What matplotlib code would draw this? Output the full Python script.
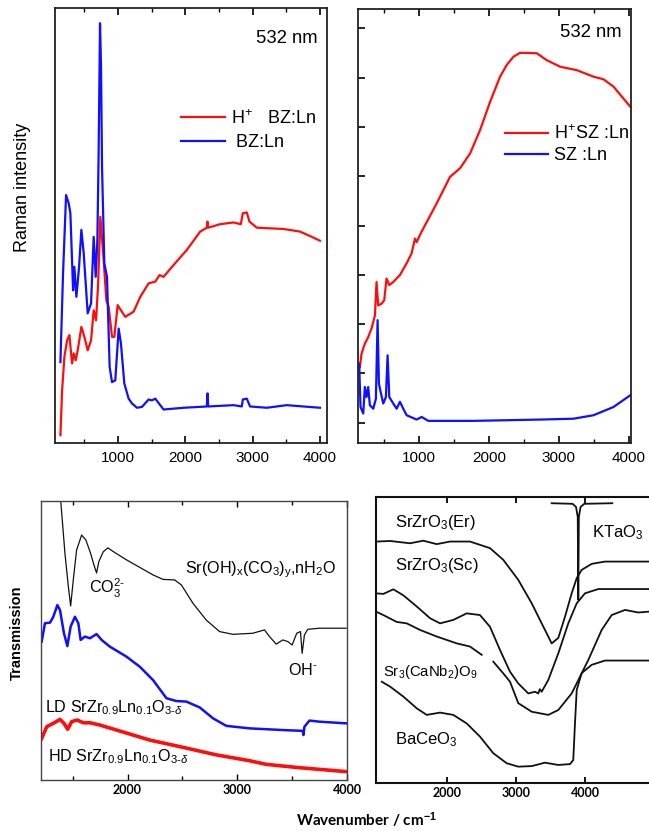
import numpy as np
import matplotlib
matplotlib.use("Agg")
import matplotlib.pyplot as plt
from matplotlib.ticker import MultipleLocator, NullFormatter

plt.rcParams['font.family'] = ['Liberation Sans', 'DejaVu Sans']
plt.rcParams['mathtext.fontset'] = 'custom'
plt.rcParams['mathtext.rm'] = 'Liberation Sans'
plt.rcParams['mathtext.it'] = 'Liberation Sans:italic'
plt.rcParams['mathtext.bf'] = 'Liberation Sans:bold'
plt.rcParams['lines.solid_joinstyle'] = 'round'

# ---- Raman, BZ:Ln (top left) ----
bz_x = [145, 184, 229, 268, 293, 333, 352, 382, 422, 456, 491, 550, 600, 639, 669, 694, 713, 733,
        748, 763, 797, 837, 876, 911, 960, 1010, 1044, 1094, 1158, 1208, 1282, 1356, 1455, 1504,
        1554, 1677, 1974, 2320, 2330, 2340, 2715, 2839, 2854, 2913, 2962, 3210, 3506, 4000]
bz_y = [18.6, 39.0, 57.0, 55.1, 52.8, 35.1, 40.5, 33.6, 40.5, 49.0, 43.6, 29.8, 32.1, 47.4, 38.2,
        46.7, 67.4, 96.5, 86.6, 63.5, 41.3, 38.2, 17.5, 14.0, 14.4, 26.3, 22.9, 13.7, 10.2, 9.1,
        8.1, 8.3, 10.0, 9.8, 10.2, 7.7, 8.1, 8.4, 11.4, 8.4, 8.7, 8.4, 10.0, 10.2, 8.4, 8.1, 8.7, 8.1]
hbz_x = [145, 170, 204, 244, 278, 318, 343, 372, 402, 456, 501, 550, 600, 639, 674, 703, 738, 787,
         827, 862, 911, 946, 995, 1044, 1109, 1232, 1331, 1455, 1554, 1618, 1677, 1825, 2023, 2221,
         2320, 2330, 2340, 2518, 2715, 2824, 2854, 2913, 2953, 3061, 3457, 3704, 3877, 4000]
hbz_y = [1.8, 12.1, 19.8, 23.6, 24.8, 18.3, 20.6, 19.0, 21.3, 26.7, 24.4, 21.3, 23.6, 30.5, 28.2,
         35.9, 52.0, 42.1, 32.8, 31.3, 24.4, 24.4, 31.7, 30.5, 29.0, 30.2, 33.6, 36.7, 37.1, 38.6,
         38.2, 40.9, 44.4, 48.6, 49.5, 50.9, 49.5, 50.3, 50.7, 50.3, 52.8, 53.0, 50.9, 49.5, 49.2,
         48.6, 47.4, 46.5]

# ---- Raman, SZ:Ln (top right) ----
hsz_x = [156, 180, 227, 275, 323, 371, 394, 418, 466, 504, 537, 576, 633, 728, 824, 895, 943, 967,
         1038, 1253, 1443, 1587, 1730, 1873, 2016, 2159, 2254, 2350, 2445, 2683, 2826, 3017, 3256,
         3494, 3637, 3780, 3899, 4019]
hsz_y = [17.5, 20.6, 22.9, 24.4, 26.4, 29.4, 37.1, 31.7, 32.1, 32.9, 37.9, 36.4, 37.1, 38.7, 41.4,
         43.7, 47.1, 46.3, 48.7, 55.2, 61.3, 63.3, 66.7, 72.1, 78.6, 84.4, 87.1, 89.0, 89.9, 89.8,
         88.2, 86.7, 85.9, 84.4, 83.8, 82.1, 79.8, 77.5]
sz_x = [146, 165, 204, 227, 251, 275, 299, 347, 385, 409, 428, 452, 490, 528, 552, 576, 633, 681,
        728, 776, 824, 967, 1038, 1134, 1777, 2731, 3208, 3494, 3780, 4019]
sz_y = [18.3, 8.3, 6.8, 12.9, 10.6, 12.9, 8.7, 7.9, 10.2, 28.3, 13.7, 11.8, 9.1, 10.6, 20.2, 10.6,
        9.1, 7.9, 9.5, 7.9, 6.4, 5.4, 6.0, 5.1, 5.1, 5.4, 5.6, 6.4, 8.3, 11.0]
sz_ticks = [4.6, 16.1, 27.4, 38.7, 50.0, 61.5, 72.8, 84.1, 95.6]

# ---- FTIR, SrZr0.9Ln0.1O3 (bottom left) ----
sroh_x = [1379, 1391, 1430, 1461, 1482, 1506, 1536, 1582, 1621, 1664, 1694, 1718, 1739, 1779, 1821,
          1885, 1991, 2112, 2233, 2324, 2430, 2491, 2597, 2718, 2839, 2961, 3142, 3248, 3294, 3355,
          3415, 3461, 3500, 3542, 3576, 3591, 3612, 3642, 3748, 3991]
sroh_y = [106.3, 100.4, 81.2, 69.3, 62.4, 71.7, 82.4, 87.8, 86.0, 81.2, 77.1, 74.2, 78.3, 81.8,
          83.2, 81.5, 78.9, 76.2, 73.5, 71.9, 71.7, 69.9, 63.3, 57.3, 53.2, 52.2, 52.6, 53.8, 51.4,
          48.7, 50.2, 49.6, 48.4, 52.6, 53.2, 45.4, 52.0, 54.0, 54.4, 54.4]
ld_x = [1218, 1248, 1294, 1324, 1361, 1385, 1421, 1452, 1482, 1521, 1552, 1573, 1612, 1658, 1718,
        1764, 1839, 1991, 2112, 2233, 2355, 2445, 2536, 2658, 2779, 2900, 3112, 3415, 3597, 3603,
        3612, 3658, 3748, 3991]
ld_y = [49.6, 56.2, 56.4, 58.5, 62.7, 60.9, 52.6, 48.0, 55.0, 58.5, 56.2, 50.2, 51.4, 50.8, 52.3,
        50.2, 47.8, 44.2, 40.6, 35.8, 29.3, 28.3, 28.1, 26.0, 22.1, 19.4, 18.5, 17.9, 17.6, 16.1,
        19.1, 21.3, 20.9, 20.3]
hd_x = [1218, 1264, 1324, 1385, 1421, 1455, 1491, 1542, 1597, 1658, 1748, 1900, 2203, 2506, 2809,
        3112, 3264, 3567, 3991]
hd_y = [14.9, 19.1, 20.3, 21.7, 20.3, 18.2, 20.9, 21.5, 20.5, 20.5, 19.7, 17.9, 14.3, 11.7, 9.0,
        6.9, 5.6, 4.4, 3.0]

# ---- FTIR, literature spectra (bottom right) ----
er_x = [971, 1174, 1464, 1657, 1851, 2043, 2333, 2623, 2816, 3033, 3228, 3420, 3517, 3613, 3710,
        3807, 3880, 3952, 4097, 4290, 4928]
er_y = [84.4, 84.6, 83.8, 84.7, 83.5, 84.4, 84.4, 82.1, 78.0, 71.0, 62.8, 53.5, 48.8, 50.7, 58.1,
        66.3, 71.6, 74.5, 76.6, 77.4, 77.4]
sc_x = [971, 1077, 1222, 1367, 1561, 1754, 1899, 2091, 2286, 2478, 2623, 2768, 2913, 3033, 3178,
        3275, 3323, 3345, 3372, 3468, 3613, 3758, 3880, 4000, 4193, 4928]
sc_y = [66.3, 66.1, 67.7, 65.6, 61.7, 57.6, 55.8, 57.0, 59.3, 58.7, 54.6, 46.5, 38.9, 34.8, 31.3,
        31.9, 31.3, 32.8, 31.9, 36.0, 45.3, 55.8, 62.8, 66.3, 67.8, 67.8]
nb_x = [971, 1077, 1271, 1416, 1609, 1851, 2141, 2333, 2503, np.nan, 2671, 2816, 2913, 3033, 3228,
        3468, 3613, 3807, 4048, 4242, 4387, 4580, 4772, 4928]
nb_y = [59.9, 58.7, 56.3, 55.8, 53.5, 51.2, 48.8, 47.7, 44.8, np.nan, 42.4, 38.3, 35.4, 27.9, 24.9,
        23.8, 25.5, 31.3, 43.0, 53.5, 58.7, 60.5, 59.6, 59.9]
bace_x = [1054, 1174, 1367, 1561, 1706, 1899, 2091, 2286, 2478, 2671, 2865, 3033, 3228, 3420, 3613,
          3783, 3830, 3855, 3880, 3952, 4097, 4290, 4928]
bace_y = [35.4, 33.7, 30.2, 26.1, 23.8, 24.6, 23.8, 20.8, 16.2, 10.4, 6.9, 5.7, 5.9, 7.1, 6.3,
          6.6, 8.0, 20.8, 32.5, 38.4, 41.3, 42.8, 42.8]
kta_x = [3517, 3820, 3870, 3895, 3903, 3911, 3936, 3990, 4396]
kta_y = [97.8, 97.6, 96.5, 93.0, 64.0, 93.0, 96.5, 97.6, 97.8]

RED = '#ff0d0d'
BLUE = '#1010ff'

fig = plt.figure(figsize=(6.49, 8.31), dpi=100)

# top left
ax1 = fig.add_axes([0.0847, 0.4669, 0.4191, 0.5235])
ax1.plot(hbz_x, hbz_y, color=RED, lw=1.6, label='H$^{+}$   BZ:Ln')
ax1.plot(bz_x, bz_y, color=BLUE, lw=1.6, label=' BZ:Ln')
ax1.set_xlim(64, 4104)
ax1.set_ylim(0, 100)
ax1.set_yticks([])
ax1.xaxis.set_major_locator(MultipleLocator(1000))
ax1.xaxis.set_minor_locator(MultipleLocator(500))
ax1.tick_params(axis='x', which='both', direction='in', top=True, bottom=True,
                labelsize=11, pad=6)
ax1.tick_params(axis='x', which='major', length=5, width=1.2)
ax1.tick_params(axis='x', which='minor', length=3, width=1.0)
ax1.text(0.967, 0.929, '532 nm', transform=ax1.transAxes, ha='right', va='center', fontsize=13.3)
ax1.legend(loc='upper left', bbox_to_anchor=(0.405, 0.805), frameon=False, fontsize=13,
           handlelength=2.4, handletextpad=0.35, labelspacing=0.35)

# top right
ax2 = fig.add_axes([0.5516, 0.4669, 0.4206, 0.5223])
ax2.plot(hsz_x, hsz_y, color=RED, lw=1.6, label='H$^{+}$SZ :Ln')
ax2.plot(sz_x, sz_y, color=BLUE, lw=1.6, label='SZ :Ln')
ax2.set_xlim(129, 4029)
ax2.set_ylim(0, 100)
ax2.set_yticks(sz_ticks)
ax2.yaxis.set_major_formatter(NullFormatter())
ax2.xaxis.set_major_locator(MultipleLocator(1000))
ax2.xaxis.set_minor_locator(MultipleLocator(500))
ax2.tick_params(axis='x', which='both', direction='in', top=True, bottom=True,
                labelsize=11, pad=6)
ax2.tick_params(axis='x', which='major', length=5, width=1.2)
ax2.tick_params(axis='x', which='minor', length=3, width=1.0)
ax2.tick_params(axis='y', direction='in', left=True, length=5, width=1.2)
ax2.text(0.967, 0.945, '532 nm', transform=ax2.transAxes, ha='right', va='center', fontsize=13.3)
ax2.legend(loc='upper left', bbox_to_anchor=(0.478, 0.772), frameon=False, fontsize=13,
           handlelength=2.4, handletextpad=0.35, labelspacing=0.25)

for ax in (ax1, ax2):
    for s in ax.spines.values():
        s.set_linewidth(1.3)
        s.set_color('#222222')

fig.text(0.034, 0.775, 'Raman intensity', rotation=90, ha='center', va='center', fontsize=13)

# bottom left
ax3 = fig.add_axes([0.0632, 0.0614, 0.4715, 0.3357])
ax3.plot(sroh_x, sroh_y, color='#111111', lw=0.9)
ax3.plot(ld_x, ld_y, color=BLUE, lw=1.8)
ax3.plot(hd_x, hd_y, color=RED, lw=2.6)
ax3.set_xlim(1212, 4000)
ax3.set_ylim(0, 100)
ax3.set_yticks([])
ax3.xaxis.set_major_locator(MultipleLocator(1000))
ax3.xaxis.set_minor_locator(MultipleLocator(500))
ax3.tick_params(axis='x', which='both', direction='in', top=True, bottom=True, pad=3)
ax3.tick_params(axis='x', which='major', length=4, width=1.0)
ax3.tick_params(axis='x', which='minor', length=3, width=1.0)
for s in ax3.spines.values():
    s.set_linewidth(1.0)
    s.set_color('#444444')
for lab in ax3.get_xticklabels():
    lab.set_fontfamily('Lato')
    lab.set_fontweight('bold')
    lab.set_fontsize(9)

ax3.text(0.471, 0.753, 'Sr(OH)$_\\mathrm{x}$(CO$_3$)$_\\mathrm{y}$,nH$_2$O', transform=ax3.transAxes,
         ha='left', va='center', fontsize=11.6)
ax3.text(0.157, 0.688, 'CO$_3^{\\text{2-}}$', transform=ax3.transAxes, ha='left', va='center',
         fontsize=11.6)
ax3.text(0.807, 0.394, 'OH$^{\\text{-}}$', transform=ax3.transAxes, ha='left', va='center',
         fontsize=11.6)
ax3.text(0.013, 0.258, 'LD SrZr$_{0.9}$Ln$_{0.1}$O$_{\\text{3-}\\delta}$', transform=ax3.transAxes,
         ha='left', va='center', fontsize=11.6)
ax3.text(0.023, 0.082, 'HD SrZr$_{0.9}$Ln$_{0.1}$O$_{\\text{3-}\\delta}$', transform=ax3.transAxes,
         ha='left', va='center', fontsize=11.6)
fig.text(0.026, 0.238, 'Transmission', rotation=90, ha='center', va='center',
         fontsize=10.5, fontweight='bold')

# bottom right
ax4 = fig.add_axes([0.5794, 0.0578, 0.4206, 0.3442])
for xs, ys in [(er_x, er_y), (sc_x, sc_y), (nb_x, nb_y), (bace_x, bace_y), (kta_x, kta_y)]:
    ax4.plot(xs, ys, color='#111111', lw=1.3)
ax4.set_xlim(971, 4928)
ax4.set_ylim(0, 100)
ax4.set_yticks([])
ax4.set_xticks([2000, 3000, 4000])
ax4.tick_params(axis='x', direction='in', top=True, bottom=True, length=4, width=1.3, pad=3)
ax4.spines['right'].set_visible(False)
for s in ('left', 'top', 'bottom'):
    ax4.spines[s].set_linewidth(1.5)
    ax4.spines[s].set_color('#111111')
for lab in ax4.get_xticklabels():
    lab.set_fontfamily('Lato')
    lab.set_fontweight('bold')
    lab.set_fontsize(9)

ax4.text(0.070, 0.909, 'SrZrO$_3$(Er)', transform=ax4.transAxes, ha='left', va='center', fontsize=12)
ax4.text(0.070, 0.759, 'SrZrO$_3$(Sc)', transform=ax4.transAxes, ha='left', va='center', fontsize=12)
ax4.text(0.026, 0.388, 'Sr$_3$(CaNb$_2$)O$_9$', transform=ax4.transAxes, ha='left', va='center',
         fontsize=10.7)
ax4.text(0.070, 0.150, 'BaCeO$_3$', transform=ax4.transAxes, ha='left', va='center', fontsize=12)
ax4.text(0.791, 0.874, 'KTaO$_3$', transform=ax4.transAxes, ha='left', va='center', fontsize=12)

fig.text(0.565, 0.013, 'Wavenumber / cm$^{\\mathbf{-1}}$', ha='center', va='center',
         fontsize=11, fontweight='bold', family='Lato')

fig.savefig('out.png', dpi=100)
